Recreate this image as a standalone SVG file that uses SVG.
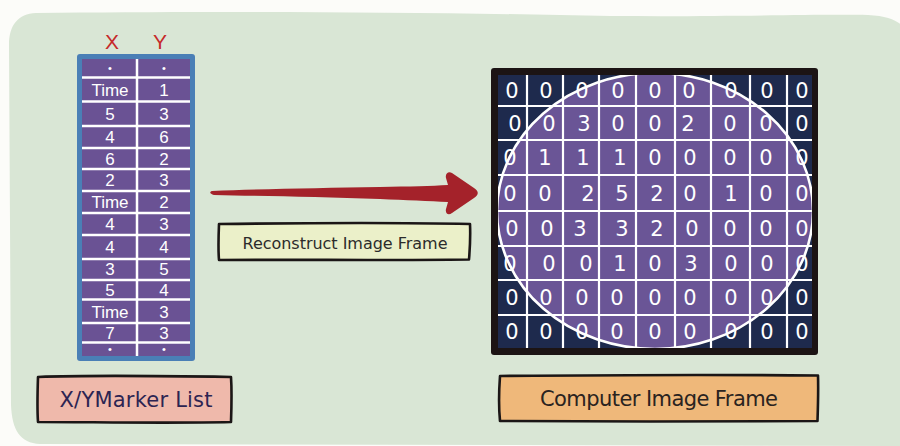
<svg xmlns="http://www.w3.org/2000/svg" width="900" height="446" viewBox="0 0 900 446">
  <defs>
    <style>
      .tbl { font-family: "Liberation Sans", Arial, sans-serif; font-size: 17px; fill: #ffffff; text-anchor: middle; }
      .axis { font-family: "Liberation Sans", Arial, sans-serif; font-size: 21px; fill: #c62a2a; text-anchor: middle; }
      .cell { font-family: "DejaVu Sans", "Liberation Sans", sans-serif; font-size: 21px; fill: #ffffff; text-anchor: middle; }
      .label { font-family: "DejaVu Sans", "Liberation Sans", sans-serif; text-anchor: middle; }
      .sketch { stroke: #1b1616; stroke-width: 2.6; stroke-linejoin: round; stroke-linecap: round; }
      .rule { stroke: #ffffff; stroke-width: 2.5; }
      .grid { stroke: #ffffff; stroke-width: 2.2; }
    </style>
    <clipPath id="gridClip">
      <rect x="498" y="75" width="314" height="273"/>
    </clipPath>
  </defs>

  <!-- page and green panel -->
  <rect x="0" y="0" width="900" height="446" fill="#fcfcf9"/>
  <path d="M36,13 C200,11 400,12 560,15 C680,18 800,14 868,15 C890,16 900,22 904,28 L904,446 L40,444 C20,443 12,430 11,405 L9,45 C9,25 18,14 36,13 Z" fill="#d9e6d5"/>

  <!-- X/Y marker table -->
  <g id="marker-table">
    <text class="axis" x="112" y="49">X</text>
    <text class="axis" x="160" y="49">Y</text>
    <rect x="77" y="54" width="118" height="307" rx="3" fill="#4a7fb6"/>
    <rect x="82" y="59" width="108" height="297" fill="#6a5294"/>
    <g class="rule">
      <line x1="82" y1="77.5" x2="190" y2="77.5"/>
      <line x1="82" y1="101.5" x2="190" y2="101.5"/>
      <line x1="82" y1="126" x2="190" y2="126"/>
      <line x1="82" y1="148" x2="190" y2="148"/>
      <line x1="82" y1="169" x2="190" y2="169"/>
      <line x1="82" y1="191" x2="190" y2="191"/>
      <line x1="82" y1="213" x2="190" y2="213"/>
      <line x1="82" y1="235" x2="190" y2="235"/>
      <line x1="82" y1="259" x2="190" y2="259"/>
      <line x1="82" y1="280" x2="190" y2="280"/>
      <line x1="82" y1="299.5" x2="190" y2="299.5"/>
      <line x1="82" y1="323" x2="190" y2="323"/>
      <line x1="82" y1="342.5" x2="190" y2="342.5"/>
      <line x1="137" y1="59" x2="137" y2="356"/>
    </g>
    <g class="tbl">
      <text x="110" y="72" font-size="11">•</text><text x="164" y="72" font-size="11">•</text>
      <text x="110" y="96">Time</text><text x="164" y="96">1</text>
      <text x="110" y="120">5</text><text x="164" y="120">3</text>
      <text x="110" y="143">4</text><text x="164" y="143">6</text>
      <text x="110" y="164.5">6</text><text x="164" y="164.5">2</text>
      <text x="110" y="186">2</text><text x="164" y="186">3</text>
      <text x="110" y="208">Time</text><text x="164" y="208">2</text>
      <text x="110" y="230">4</text><text x="164" y="230">3</text>
      <text x="110" y="253">4</text><text x="164" y="253">4</text>
      <text x="110" y="275">3</text><text x="164" y="275">5</text>
      <text x="110" y="296">5</text><text x="164" y="296">4</text>
      <text x="110" y="317.5">Time</text><text x="164" y="317.5">3</text>
      <text x="110" y="338.5">7</text><text x="164" y="338.5">3</text>
      <text x="110" y="353" font-size="11">•</text><text x="164" y="353" font-size="11">•</text>
    </g>
  </g>

  <!-- image frame grid -->
  <g id="image-frame">
    <rect x="491" y="68" width="327" height="287" rx="3" fill="#1c1414"/>
    <g clip-path="url(#gridClip)">
      <rect x="498" y="75" width="314" height="273" fill="#1e2a4d"/>
      <ellipse cx="655" cy="211" rx="158" ry="138" fill="#6a5596"/>
      <g class="grid">
        <line x1="527" y1="75" x2="527" y2="348"/>
        <line x1="563" y1="75" x2="563" y2="348"/>
        <line x1="599" y1="75" x2="599" y2="348"/>
        <line x1="636" y1="75" x2="636" y2="348"/>
        <line x1="675" y1="75" x2="675" y2="348"/>
        <line x1="711" y1="75" x2="711" y2="348"/>
        <line x1="750" y1="75" x2="750" y2="348"/>
        <line x1="787" y1="75" x2="787" y2="348"/>
        <line x1="498" y1="106" x2="812" y2="106"/>
        <line x1="498" y1="140" x2="812" y2="140"/>
        <line x1="498" y1="175" x2="812" y2="175"/>
        <line x1="498" y1="211" x2="812" y2="211"/>
        <line x1="498" y1="246" x2="812" y2="246"/>
        <line x1="498" y1="280" x2="812" y2="280"/>
        <line x1="498" y1="315" x2="812" y2="315"/>
      </g>
      <ellipse cx="655" cy="211" rx="158" ry="138" fill="none" stroke="#ffffff" stroke-width="2.6"/>
    </g>
    <g class="cell">
      <text x="512" y="98">0</text><text x="546" y="98">0</text><text x="582" y="98">0</text><text x="618" y="98">0</text><text x="655" y="98">0</text><text x="689" y="98">0</text><text x="731" y="98">0</text><text x="767" y="98">0</text><text x="802" y="98">0</text>
      <text x="515" y="131">0</text><text x="549" y="131">0</text><text x="584" y="131">3</text><text x="618" y="131">0</text><text x="655" y="131">0</text><text x="688" y="131">2</text><text x="730" y="131">0</text><text x="766" y="131">0</text><text x="802" y="131">0</text>
      <text x="510" y="165">0</text><text x="545" y="165">1</text><text x="583" y="165">1</text><text x="620" y="165">1</text><text x="655" y="165">0</text><text x="690" y="165">0</text><text x="730" y="165">0</text><text x="766" y="165">0</text><text x="802" y="165">0</text>
      <text x="510" y="201">0</text><text x="545" y="201">0</text><text x="588" y="201">2</text><text x="622" y="201">5</text><text x="657" y="201">2</text><text x="690" y="201">0</text><text x="731" y="201">1</text><text x="766" y="201">0</text><text x="802" y="201">0</text>
      <text x="512" y="236">0</text><text x="547" y="236">0</text><text x="580" y="236">3</text><text x="622" y="236">3</text><text x="657" y="236">2</text><text x="692" y="236">0</text><text x="730" y="236">0</text><text x="766" y="236">0</text><text x="802" y="236">0</text>
      <text x="510" y="271">0</text><text x="549" y="271">0</text><text x="586" y="271">0</text><text x="620" y="271">1</text><text x="655" y="271">0</text><text x="691" y="271">3</text><text x="731" y="271">0</text><text x="767" y="271">0</text><text x="802" y="271">0</text>
      <text x="512" y="305">0</text><text x="546" y="305">0</text><text x="582" y="305">0</text><text x="617" y="305">0</text><text x="655" y="305">0</text><text x="690" y="305">0</text><text x="731" y="305">0</text><text x="767" y="305">0</text><text x="802" y="305">0</text>
      <text x="512" y="339">0</text><text x="546" y="339">0</text><text x="582" y="339">0</text><text x="617" y="339">0</text><text x="655" y="339">0</text><text x="690" y="339">0</text><text x="731" y="339">0</text><text x="767" y="339">0</text><text x="802" y="339">0</text>
    </g>
  </g>

  <!-- connector: brush-stroke arrow -->
  <g id="connectors">
    <path d="M212,191 C260,189 320,188 380,187 C410,186.5 432,186 448,185 L446,178 C445,174 448,171 452,173 L474,188 C479,191 479,195 474,198 L452,213 C448,216 445,213 446,209 L448,202 C430,201 405,200 380,199 C320,197 260,196 214,195 C210,194 209,192 212,191 Z" fill="#a4222a"/>
  </g>

  <!-- caption boxes -->
  <g id="reconstruct-label">
    <path class="sketch" d="M219,224 C300,223 400,222.5 470,224 C470.5,236 470,248 469,259.5 C390,260.5 300,259.5 219,260 C218,248 218.5,236 219,224 Z" fill="#ebf0c9"/>
    <text class="label" x="345" y="248.5" font-size="16" fill="#2b2b2b" textLength="205" lengthAdjust="spacing">Reconstruct Image Frame</text>
  </g>

  <g id="marker-list-label">
    <path class="sketch" d="M38,377 C90,375 170,376 231,377 C232,392 231.5,408 231,422 C170,423.5 90,422 38,422 C37,408 37.5,392 38,377 Z" fill="#efb9ab"/>
    <text class="label" x="136" y="407" font-size="21" fill="#2c2452" textLength="153" lengthAdjust="spacing">X/YMarker List</text>
  </g>

  <g id="frame-label">
    <path class="sketch" d="M500,376 C600,375 720,374.5 818,375.5 C818.5,391 818,406 817.5,421 C720,422 600,421.5 500,421 C498.5,406 499,390 500,376 Z" fill="#efb87a"/>
    <text class="label" x="659" y="406" font-size="21" fill="#2a2320" textLength="238" lengthAdjust="spacing">Computer Image Frame</text>
  </g>
</svg>
